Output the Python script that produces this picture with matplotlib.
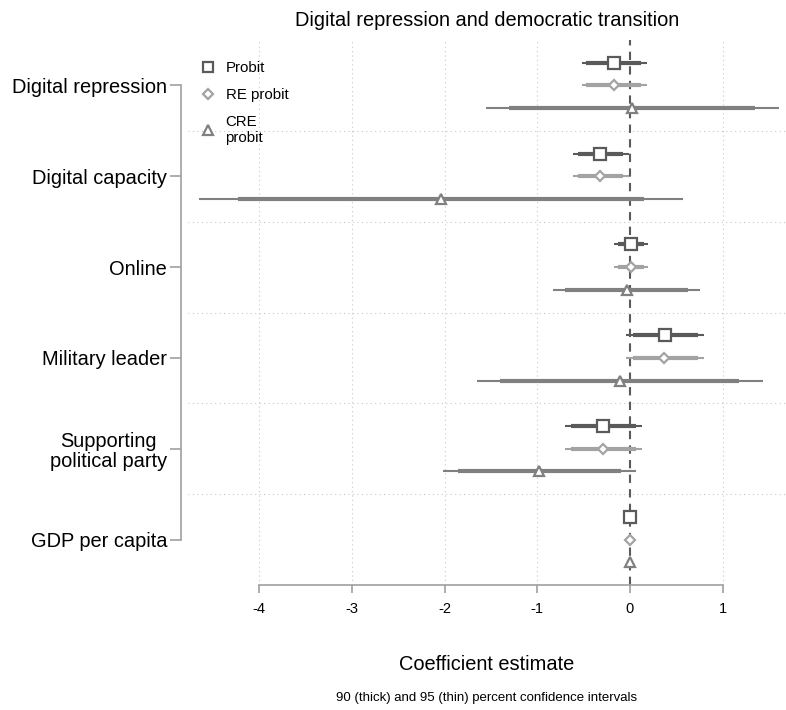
import numpy as np
import matplotlib.pyplot as plt
from matplotlib.lines import Line2D

plt.rcParams['font.family'] = ['Liberation Sans', 'DejaVu Sans']

# Переменные (сверху вниз)
variables = ['Digital repression', 'Digital capacity', 'Online', 'Military leader',
             'Supporting\npolitical party', 'GDP per capita']

# Оценки коэффициентов и доверительные интервалы (90% и 95%)
probit_b = [-0.17, -0.32, 0.01, 0.38, -0.29, 0.00]
probit_lo90 = [-0.47, -0.56, -0.13, 0.03, -0.64, -0.005]
probit_hi90 = [0.12, -0.07, 0.15, 0.73, 0.07, 0.005]
probit_lo95 = [-0.52, -0.61, -0.17, -0.04, -0.70, -0.01]
probit_hi95 = [0.18, -0.01, 0.19, 0.80, 0.13, 0.01]

re_b = [-0.17, -0.32, 0.01, 0.37, -0.29, 0.00]
re_lo90 = [-0.47, -0.56, -0.13, 0.03, -0.64, -0.005]
re_hi90 = [0.12, -0.07, 0.15, 0.73, 0.07, 0.005]
re_lo95 = [-0.52, -0.61, -0.17, -0.04, -0.70, -0.01]
re_hi95 = [0.18, -0.01, 0.19, 0.80, 0.13, 0.01]

cre_b = [0.02, -2.04, -0.03, -0.11, -0.98, 0.00]
cre_lo90 = [-1.30, -4.23, -0.70, -1.40, -1.85, -0.005]
cre_hi90 = [1.35, 0.15, 0.63, 1.18, -0.10, 0.005]
cre_lo95 = [-1.55, -4.65, -0.83, -1.65, -2.02, -0.01]
cre_hi95 = [1.61, 0.57, 0.76, 1.43, 0.07, 0.01]

xticks = [-4, -3, -2, -1, 0, 1]

models = [
    ('Probit', probit_b, probit_lo90, probit_hi90, probit_lo95, probit_hi95, '#5a5a5a', 's', 8.0, -0.25),
    ('RE probit', re_b, re_lo90, re_hi90, re_lo95, re_hi95, '#a3a3a3', 'D', 5.5, 0.0),
    ('CRE\nprobit', cre_b, cre_lo90, cre_hi90, cre_lo95, cre_hi95, '#808080', '^', 7.5, 0.25),
]

fig = plt.figure(figsize=(7.86, 7.10), dpi=100)
ax = fig.add_axes([188 / 786, 125 / 710, 598 / 786, 545 / 710])

y = np.arange(len(variables))

# сетка
for xt in xticks:
    if xt != 0:
        ax.axvline(xt, color='#c8c8c8', lw=0.8, ls=(0, (1, 3)), zorder=0)
for k in range(len(variables) - 1):
    ax.axhline(k + 0.5, color='#c8c8c8', lw=0.8, ls=(0, (1, 3)), zorder=0)
ax.axvline(0, color='#5a5a5a', lw=1.5, ls=(0, (4, 3)), zorder=1)

handles = []
for name, b, lo90, hi90, lo95, hi95, col, mk, ms, off in models:
    yy = y + off
    ax.hlines(yy, lo95, hi95, color=col, lw=1.5, zorder=2)
    ax.hlines(yy, lo90, hi90, color=col, lw=3.0, zorder=3)
    ax.plot(b, yy, ls='none', marker=mk, ms=ms, mfc='white', mec=col, mew=1.6, zorder=4)
    handles.append(Line2D([], [], ls='none', marker=mk, ms=ms * 0.95, mfc='white',
                          mec=col, mew=1.6, label=name))

ax.set_xlim(-4.768, 1.683)
ax.set_ylim(5.5, -0.5)

for s in ['top', 'right']:
    ax.spines[s].set_visible(False)
ax.spines['bottom'].set_bounds(-4, 1)
ax.spines['left'].set_bounds(0, 5)
ax.spines['left'].set_position(('outward', 5))
for s in ['bottom', 'left']:
    ax.spines[s].set_color('#a0a0a0')
    ax.spines[s].set_linewidth(1.2)
ax.tick_params(axis='x', length=6, width=1.2, color='#a0a0a0', pad=6, labelsize=10.5)
ax.tick_params(axis='y', length=8, width=1.2, color='#a0a0a0', pad=2, labelsize=14.4)

ax.set_xticks(xticks)
ax.set_xticklabels([str(t) for t in xticks])
ax.set_yticks(y)
ax.set_yticklabels(variables)
for lbl in ax.get_yticklabels():
    lbl.set_fontsize(14.4)
    lbl.set_multialignment('center')
    lbl.set_linespacing(1.05)

ax.set_title('Digital repression and democratic transition', fontsize=14.4, pad=10)
ax.set_xlabel('Coefficient estimate', fontsize=14.4, labelpad=28)
fig.text(487 / 786, 1 - 698 / 710, '90 (thick) and 95 (thin) percent confidence intervals',
         ha='center', va='center', fontsize=9.5)

ax.legend(handles=handles, loc='upper left', bbox_to_anchor=(12 / 598, 1 - 21 / 545),
          frameon=False, fontsize=10.8, handlelength=1.0, handletextpad=0.7,
          labelspacing=0.85, borderpad=0, borderaxespad=0)

plt.savefig('out.png', dpi=100)
